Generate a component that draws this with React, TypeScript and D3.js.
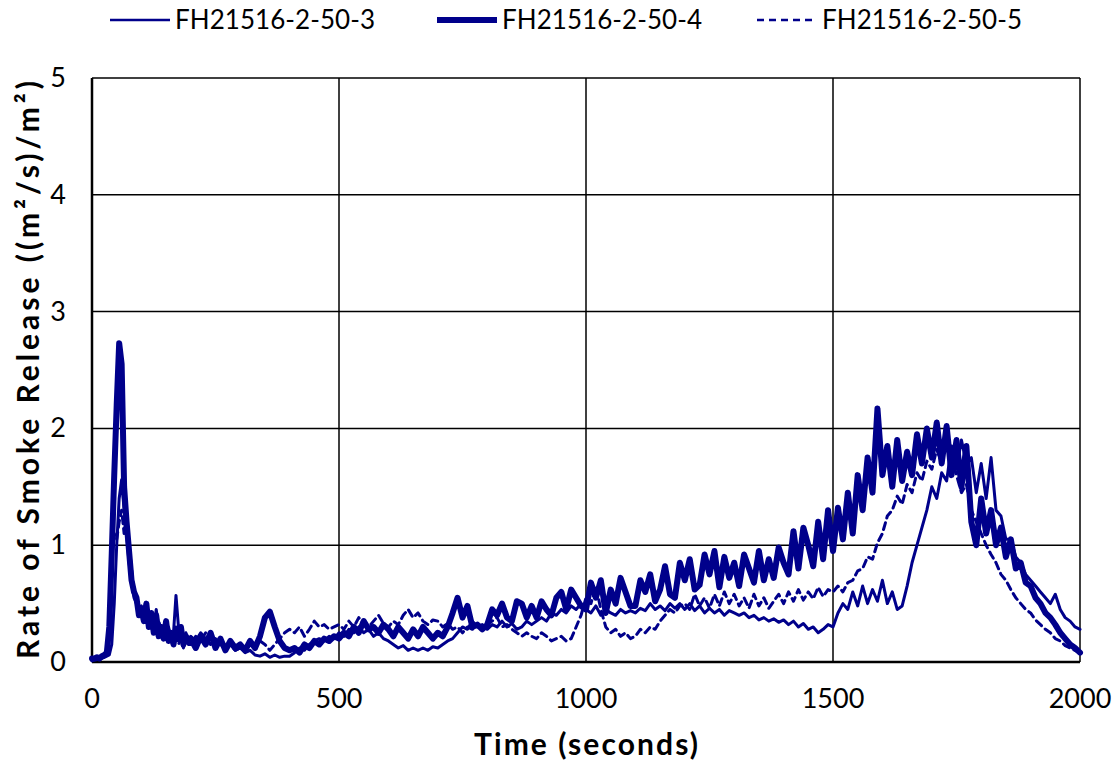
import React, { useEffect, useRef } from 'react';
import * as d3 from 'd3';

// sample instants: 5 s steps over the first 200 s, 10 s steps after
const seconds = [...d3.range(0, 200, 5), ...d3.range(200, 2001, 10)];

// FH21516-2-50-3 (thin solid)
const rsr3 = [
  0.02, 0.02, 0.03, 0.02, 0.03, 0.04, 0.05, 0.06, 0.15, 0.5, 1.0, 1.4, 1.56, 1.3, 1.1, 0.85, 0.7, 0.55, 0.5, 0.45,
  0.48, 0.4, 0.42, 0.3, 0.35, 0.28, 0.45, 0.3, 0.25, 0.2, 0.22, 0.3, 0.2, 0.25, 0.57, 0.3, 0.22, 0.18, 0.25, 0.2,
  0.22, 0.18, 0.25, 0.2, 0.15, 0.2, 0.15, 0.12, 0.15, 0.1,
  0.12, 0.08, 0.1, 0.06, 0.05, 0.07, 0.04, 0.06, 0.04, 0.05,
  0.05, 0.08, 0.12, 0.1, 0.15, 0.18, 0.2, 0.18, 0.22, 0.2,
  0.25, 0.22, 0.28, 0.25, 0.3, 0.25, 0.28, 0.22, 0.25, 0.2,
  0.18, 0.15, 0.12, 0.14, 0.1, 0.12, 0.1, 0.12, 0.1, 0.13,
  0.12, 0.15, 0.18, 0.2, 0.25, 0.3, 0.28, 0.35, 0.3, 0.32,
  0.28, 0.32, 0.3, 0.35, 0.3, 0.33, 0.28, 0.3, 0.35, 0.32,
  0.35, 0.38, 0.35, 0.42, 0.4, 0.45, 0.42, 0.48, 0.45, 0.5,
  0.45, 0.42, 0.48, 0.4, 0.45, 0.42, 0.4, 0.45, 0.42, 0.44,
  0.42, 0.46, 0.44, 0.5, 0.45, 0.48, 0.44, 0.5, 0.46, 0.5,
  0.45, 0.5, 0.44, 0.48, 0.42, 0.46, 0.42, 0.45, 0.4, 0.44,
  0.42, 0.4, 0.42, 0.38, 0.4, 0.36, 0.38, 0.35, 0.37, 0.34,
  0.36, 0.32, 0.35, 0.3, 0.33, 0.28, 0.3, 0.25, 0.28, 0.32,
  0.3, 0.42, 0.5, 0.45, 0.6, 0.48, 0.65, 0.5, 0.62, 0.52,
  0.7, 0.5, 0.6, 0.45, 0.48, 0.65, 0.85, 1.0, 1.15, 1.3,
  1.5, 1.4, 1.62, 1.55, 1.85, 1.65, 1.9, 1.7, 1.75, 1.45,
  1.7, 1.4, 1.75, 1.3, 1.25, 1.05, 1.05, 0.9, 0.85, 0.75,
  0.7, 0.65, 0.6, 0.55, 0.5, 0.58, 0.45, 0.38, 0.35, 0.3,
  0.28,
];

// FH21516-2-50-4 (thick solid)
const rsr4 = [
  0.03, 0.03, 0.04, 0.03, 0.05, 0.06, 0.08, 0.3, 0.93, 1.6, 2.2, 2.73, 2.55, 1.5, 1.2, 0.95, 0.7, 0.6, 0.55, 0.4,
  0.45, 0.35, 0.5, 0.3, 0.42, 0.25, 0.4, 0.22, 0.3, 0.2, 0.35, 0.18, 0.25, 0.15, 0.28, 0.2, 0.3, 0.15, 0.22, 0.18,
  0.2, 0.12, 0.22, 0.15, 0.25, 0.12, 0.2, 0.1, 0.18, 0.12,
  0.15, 0.1, 0.18, 0.12, 0.22, 0.38, 0.43, 0.3, 0.18, 0.12,
  0.1, 0.12, 0.08, 0.15, 0.12, 0.18, 0.15, 0.2, 0.18, 0.22,
  0.2, 0.25, 0.22, 0.3, 0.25, 0.35, 0.28, 0.3, 0.25, 0.32,
  0.28, 0.22, 0.3, 0.25, 0.2, 0.28, 0.22, 0.3, 0.25, 0.2,
  0.25, 0.22, 0.3, 0.42, 0.55, 0.38, 0.48, 0.3, 0.32, 0.28,
  0.32, 0.45, 0.4, 0.5, 0.38, 0.35, 0.52, 0.5, 0.38, 0.48,
  0.38, 0.52, 0.45, 0.4, 0.55, 0.6, 0.45, 0.62, 0.55, 0.48,
  0.45, 0.68, 0.55, 0.7, 0.42, 0.62, 0.5, 0.72, 0.6, 0.48,
  0.48, 0.7, 0.6, 0.75, 0.52, 0.62, 0.82, 0.58, 0.55, 0.85,
  0.7, 0.88, 0.62, 0.66, 0.92, 0.75, 0.95, 0.64, 0.9, 0.72,
  0.85, 0.65, 0.92, 0.8, 0.68, 0.95, 0.7, 0.88, 0.72, 0.98,
  0.85, 0.75, 1.12, 0.8, 1.15, 1.0, 0.82, 1.2, 0.88, 1.3,
  0.95, 1.32, 1.05, 1.45, 1.1, 1.6, 1.3, 1.75, 1.45, 2.17,
  1.6, 1.85, 1.5, 1.9, 1.55, 1.8, 1.6, 1.95, 1.7, 2.0,
  1.75, 2.05, 1.7, 2.02, 1.6, 1.9, 1.5, 1.85, 1.2, 1.0,
  1.4, 1.1, 1.3, 1.0, 1.15, 0.9, 1.05, 0.8, 0.85, 0.68,
  0.65, 0.55, 0.5, 0.42, 0.38, 0.32, 0.25, 0.2, 0.15, 0.12,
  0.08,
];

// FH21516-2-50-5 (dashed)
const rsr5 = [
  0.01, 0.02, 0.02, 0.03, 0.03, 0.05, 0.08, 0.4, 0.9, 1.1, 1.05, 1.2, 1.3, 1.1, 1.28, 1.0, 0.8, 0.6, 0.5, 0.45,
  0.4, 0.38, 0.45, 0.35, 0.3, 0.4, 0.25, 0.35, 0.28, 0.2, 0.3, 0.18, 0.25, 0.22, 0.3, 0.15, 0.2, 0.12, 0.18, 0.15,
  0.15, 0.22, 0.18, 0.25, 0.2, 0.15, 0.18, 0.12, 0.15, 0.1,
  0.12, 0.1, 0.15, 0.12, 0.18, 0.15, 0.1, 0.15, 0.2, 0.25,
  0.28, 0.25, 0.3, 0.22, 0.28, 0.35, 0.3, 0.32, 0.28, 0.3,
  0.32, 0.28, 0.35, 0.3, 0.38, 0.32, 0.3, 0.35, 0.4, 0.33,
  0.3, 0.35, 0.32, 0.4, 0.45, 0.38, 0.42, 0.35, 0.32, 0.36,
  0.35, 0.3, 0.33, 0.28, 0.3, 0.25, 0.3, 0.28, 0.32, 0.3,
  0.32, 0.35, 0.38, 0.3, 0.32, 0.28, 0.25, 0.22, 0.25, 0.22,
  0.2, 0.25, 0.22, 0.18, 0.2, 0.22, 0.18, 0.2, 0.3, 0.4,
  0.55, 0.5, 0.65, 0.45, 0.3, 0.25, 0.28, 0.22, 0.25, 0.2,
  0.22, 0.28, 0.25, 0.3, 0.28, 0.35, 0.4, 0.45, 0.42, 0.48,
  0.5, 0.45, 0.58, 0.48, 0.55, 0.46, 0.58, 0.48, 0.6, 0.5,
  0.58, 0.48, 0.55, 0.46, 0.58, 0.48, 0.55, 0.46, 0.52, 0.58,
  0.5, 0.6, 0.52, 0.62, 0.53, 0.6, 0.54, 0.64, 0.56, 0.62,
  0.6, 0.65, 0.6, 0.68, 0.7, 0.78, 0.8, 0.9, 0.88, 1.02,
  1.1, 1.25, 1.3, 1.42, 1.35, 1.52, 1.45, 1.62, 1.55, 1.72,
  1.65, 1.82, 1.7, 1.92, 1.75, 1.6, 1.45, 1.52, 1.3, 1.2,
  1.1, 1.0, 0.92, 0.85, 0.75, 0.7, 0.62, 0.55, 0.5, 0.45,
  0.42, 0.36, 0.32, 0.28, 0.25, 0.2, 0.18, 0.14, 0.12, 0.1,
  0.08,
];

const seriesNames = ['FH21516-2-50-3', 'FH21516-2-50-4', 'FH21516-2-50-5'];
const xTicks = [0, 500, 1000, 1500, 2000];
const yTicks = [0, 1, 2, 3, 4, 5];

const navy = '#00008b';
const font = 'Lato, "Open Sans", sans-serif';

function SmokeChart() {
  const ref = useRef<SVGSVGElement>(null);

  useEffect(() => {
    document.body.style.margin = '0';
    const svg = d3.select(ref.current);
    svg.selectAll('*').remove();

    const left = 92, right = 1080, top = 78, bottom = 662;
    const x = d3.scaleLinear().domain([0, 2000]).range([left, right]);
    const y = d3.scaleLinear().domain([0, 5]).range([bottom, top]);

    // grid
    svg.append('g').selectAll('line').data(yTicks).enter().append('line')
      .attr('x1', left).attr('x2', right)
      .attr('y1', d => y(d)).attr('y2', d => y(d))
      .attr('stroke', '#000').attr('stroke-width', 1.5);
    svg.append('g').selectAll('line').data(xTicks).enter().append('line')
      .attr('x1', d => x(d)).attr('x2', d => x(d))
      .attr('y1', top).attr('y2', bottom)
      .attr('stroke', '#000').attr('stroke-width', 1.5);
    svg.append('line').attr('x1', left).attr('x2', right).attr('y1', bottom).attr('y2', bottom)
      .attr('stroke', '#000').attr('stroke-width', 2.5);
    svg.append('line').attr('x1', left).attr('x2', left).attr('y1', top).attr('y2', bottom)
      .attr('stroke', '#000').attr('stroke-width', 2.5);

    // tick labels
    svg.append('g').selectAll('text').data(yTicks).enter().append('text')
      .attr('x', 66).attr('y', d => y(d) + 9)
      .attr('text-anchor', 'end')
      .style('font-family', font).style('font-size', '27px')
      .text(d => d);
    svg.append('g').selectAll('text').data(xTicks).enter().append('text')
      .attr('x', d => x(d)).attr('y', 708)
      .attr('text-anchor', 'middle')
      .style('font-family', font).style('font-size', '27px')
      .text(d => d);

    // axis titles
    svg.append('text')
      .attr('x', 586).attr('y', 755)
      .attr('text-anchor', 'middle')
      .attr('textLength', 224).attr('lengthAdjust', 'spacing')
      .style('font-family', font).style('font-size', '30px').style('font-weight', 'bold')
      .text('Time (seconds)');
    svg.append('text')
      .attr('transform', 'translate(39,' + (top + bottom) / 2 + ') rotate(-90)')
      .attr('text-anchor', 'middle')
      .attr('textLength', 578).attr('lengthAdjust', 'spacing')
      .style('font-family', font).style('font-size', '30px').style('font-weight', 'bold')
      .text('Rate of Smoke Release ((m²/s)/m²)');

    // series
    const styles = [
      { width: 3, dash: null },
      { width: 6, dash: null },
      { width: 3, dash: '7,5' },
    ];
    const allSeries = [rsr3, rsr4, rsr5];
    const line = d3.line<number>()
      .defined(d => d != null)
      .x((d, i) => x(seconds[i]))
      .y(d => y(d));

    allSeries.forEach((vals, k) => {
      svg.append('path')
        .attr('d', line(vals))
        .attr('fill', 'none')
        .attr('stroke', navy)
        .attr('stroke-width', styles[k].width)
        .attr('stroke-linejoin', 'round')
        .attr('stroke-linecap', 'round')
        .attr('stroke-dasharray', styles[k].dash);
    });

    // legend
    const legendX = [175, 502, 822];
    const legend = svg.append('g').selectAll('g').data(seriesNames).enter().append('g')
      .attr('transform', (d, i) => 'translate(' + legendX[i] + ',20)');
    legend.append('line')
      .attr('x1', -65).attr('x2', -5).attr('y1', 0).attr('y2', 0)
      .attr('stroke', navy)
      .attr('stroke-width', (d, i) => (i === 1 ? 6 : 2.5))
      .attr('stroke-dasharray', (d, i) => styles[i].dash);
    legend.append('text')
      .attr('x', 0).attr('y', 9)
      .attr('textLength', 200).attr('lengthAdjust', 'spacing')
      .style('font-family', font).style('font-size', '26px')
      .text(d => d);
  }, []);

  return <svg ref={ref} width={1115} height={762} />;
}

export default function App() {
  return <SmokeChart />;
}
